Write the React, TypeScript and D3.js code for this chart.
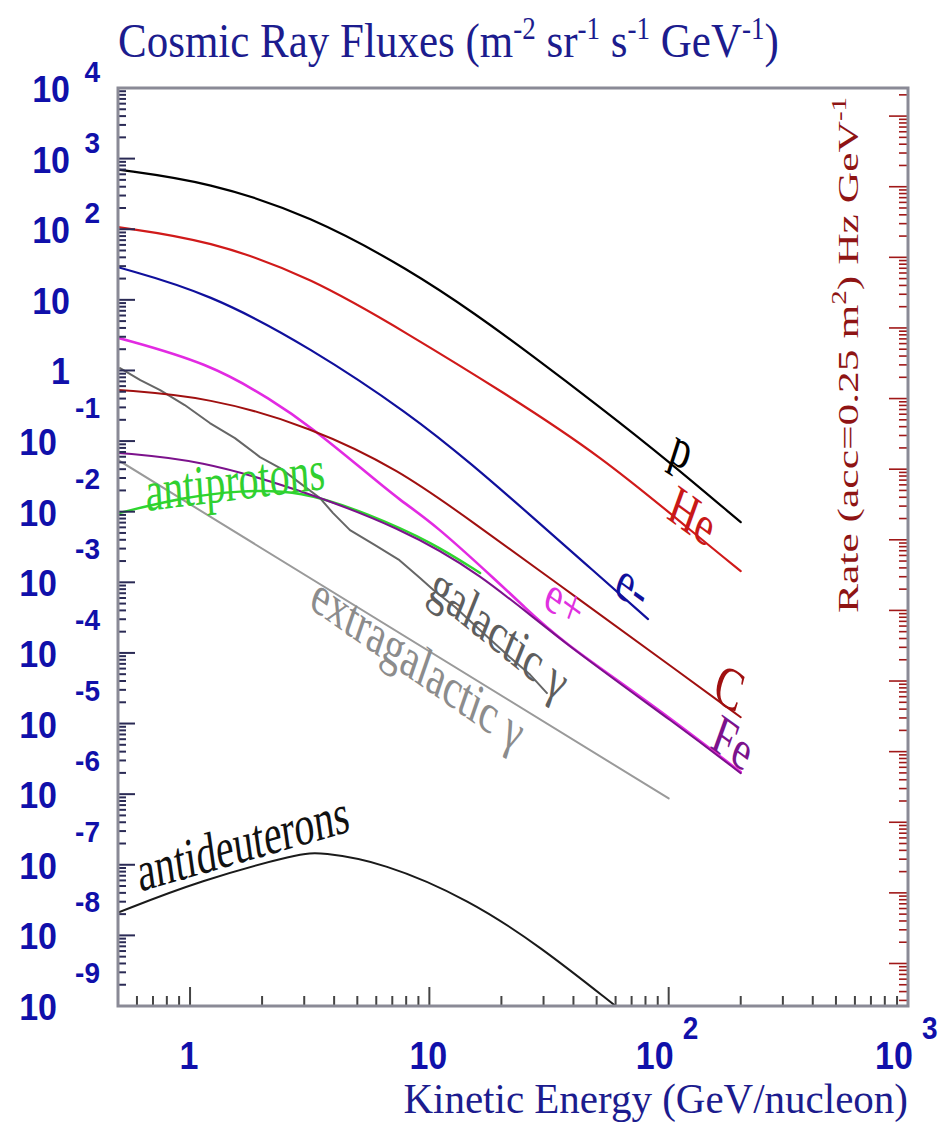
import React from "react";
import * as d3 from "d3";

// ---- frame -------------------------------------------------------------
const W = 948;
const H = 1127;
const M = { left: 118, right: 908, top: 88, bottom: 1006 };

// ---- axes --------------------------------------------------------------
const energyDomain: [number, number] = [0.5, 1000];
const fluxDomain: [number, number] = [1e-9, 1e4];
const acceptance = 0.25; // m^2 sr, converts flux to rate
const yDecades = [-9, -8, -7, -6, -5, -4, -3, -2, -1, 0, 1, 2, 3, 4];
const xDecades = [0, 1, 2, 3];

// ---- spectra: [kinetic energy GeV/n, flux m^-2 sr^-1 s^-1 GeV^-1] -------
const protons: [number, number][] = [
  [0.5, 700], [1.2, 467], [3.2, 154], [8.3, 26.4], [15.8, 6.1], [26.4, 1.71],
  [51.7, 0.303], [98.5, 0.054], [200, 0.0071],
];
const helium: [number, number][] = [
  [0.5, 107], [1.2, 70], [3.2, 21], [8.3, 3.17], [19.7, 0.527], [51.7, 0.0634],
  [135, 0.00423], [200, 0.00144],
];
const electrons: [number, number][] = [
  [0.5, 29], [1.2, 12.5], [3.2, 2.08], [8.3, 0.241], [15.2, 0.0457],
  [26.4, 0.00895], [45.6, 0.00175], [82, 0.000301],
];
const positrons: [number, number][] = [
  [0.5, 2.9], [1.2, 1.27], [2.2, 0.38], [3.2, 0.158], [5.3, 0.039],
  [7.5, 0.0146], [10.4, 0.0069], [19.7, 0.00095], [24.4, 0.00048],
  [35, 0.000152], [84, 0.0000195], [200, 0.00000205],
];
const carbon: [number, number][] = [
  [0.5, 0.53], [1.2, 0.42], [3.2, 0.158], [7.5, 0.039], [14.8, 0.0076],
  [42.6, 0.00056], [112, 0.000052], [200, 0.0000123],
];
const iron: [number, number][] = [
  [0.5, 0.068], [1.1, 0.054], [2.9, 0.0202], [7.5, 0.006], [16.3, 0.00135],
  [35, 0.000152], [112, 0.0000089], [200, 0.00000198],
];
const antiprotons: [number, number][] = [
  [0.5, 0.0095], [0.94, 0.016], [1.6, 0.02], [2.9, 0.02], [5.5, 0.0095],
  [10.4, 0.0036], [16.3, 0.00135],
];
const galacticGamma: [number, number][] = [
  [0.51, 1.08], [0.62, 0.731], [0.75, 0.527], [0.95, 0.324], [1.21, 0.18],
  [1.54, 0.11], [1.96, 0.0593], [2.38, 0.0415], [2.88, 0.0254],
  [3.49, 0.0156], [3.96, 0.00955], [4.66, 0.00548], [5.93, 0.00337],
  [7.5, 0.00206], [9.14, 0.00115], [10.4, 0.00078], [12.8, 0.000446],
  [16.3, 0.00021], [21.7, 0.000087], [26.4, 0.000049], [31, 0.000027],
];
const extragalacticGamma: [number, number][] = [
  [0.5, 0.054], [100, 0.00000087],
];
const antideuterons: [number, number][] = [
  [0.5, 2.1e-8], [1.1, 6e-8], [2.9, 1.46e-7], [3.5, 1.5e-7], [6.4, 1.09e-7],
  [14.8, 3.15e-8], [29, 7e-9], [60, 1e-9],
];

type Series = { name: string; data: [number, number][]; color: string; width: number; smooth: boolean };
const series: Series[] = [
  { name: "extragalactic", data: extragalacticGamma, color: "#9a9a9a", width: 2, smooth: true },
  { name: "galactic", data: galacticGamma, color: "#666666", width: 2, smooth: false },
  { name: "antideuterons", data: antideuterons, color: "#1a1a1a", width: 2, smooth: true },
  { name: "antiprotons", data: antiprotons, color: "#2ed62e", width: 2.4, smooth: true },
  { name: "e+", data: positrons, color: "#e22ae2", width: 2.6, smooth: true },
  { name: "Fe", data: iron, color: "#7c128c", width: 2, smooth: true },
  { name: "C", data: carbon, color: "#a01010", width: 2, smooth: true },
  { name: "e-", data: electrons, color: "#10109c", width: 2.2, smooth: true },
  { name: "He", data: helium, color: "#d01a1a", width: 2.2, smooth: true },
  { name: "p", data: protons, color: "#000000", width: 2.2, smooth: true },
];

// curve labels: text, anchor energy, anchor flux, on-screen angle, colour
const curveLabels: { text: string; e: number; f: number; angle: number; color: string; size: number }[] = [
  { text: "p", e: 114, f: 0.08, angle: 33, color: "#000000", size: 40 },
  { text: "He", e: 126, f: 0.009, angle: 36, color: "#c81818", size: 40 },
  { text: "e-", e: 71, f: 0.00091, angle: 36, color: "#10109c", size: 40 },
  { text: "e+", e: 36.9, f: 0.00054, angle: 36, color: "#e030e0", size: 38 },
  { text: "C", e: 180, f: 0.000033, angle: 30, color: "#a01010", size: 42 },
  { text: "Fe", e: 186, f: 0.0000055, angle: 36, color: "#7c128c", size: 40 },
  { text: "galactic \u03b3", e: 19.7, f: 0.000197, angle: 39, color: "#5e5e5e", size: 40 },
  { text: "extragalactic \u03b3", e: 9.0, f: 0.000074, angle: 35, color: "#8c8c8c", size: 40 },
  { text: "antiprotons", e: 1.54, f: 0.028, angle: -7, color: "#30d030", size: 40 },
  { text: "antideuterons", e: 1.66, f: 2.1e-7, angle: -16, color: "#111111", size: 40 },
];

const SERIF = "'Liberation Serif', 'Times New Roman', Times, serif";
const SANS = "'Liberation Sans', Arial, Helvetica, sans-serif";
const STRETCH = 1.42; // glyphs are drawn taller than wide
const AXIS_BLUE = "#1010aa";
const TITLE_BLUE = "#1c1c8e";
const RATE_RED = "#8e1414";

function logTicks(lo: number, hi: number) {
  const out: { v: number; major: boolean }[] = [];
  const n0 = Math.floor(Math.log10(lo));
  const n1 = Math.ceil(Math.log10(hi));
  for (let n = n0; n <= n1; n++) {
    for (let k = 1; k <= 9; k++) {
      const v = k * Math.pow(10, n);
      if (v >= lo * (1 - 1e-9) && v <= hi * (1 + 1e-9)) out.push({ v, major: k === 1 });
    }
  }
  return out;
}

function stretchedAngle(a: number, k: number) {
  const r = (a * Math.PI) / 180;
  return (Math.atan2(Math.sin(r), Math.cos(r) * k) * 180) / Math.PI;
}

export default function App() {
  const x = d3.scaleLog().domain(energyDomain).range([M.left, M.right]);
  const y = d3.scaleLog().domain(fluxDomain).range([M.bottom, M.top]);
  const yRate = d3
    .scaleLog()
    .domain([fluxDomain[0] * acceptance, fluxDomain[1] * acceptance])
    .range([M.bottom, M.top]);

  const lineSmooth = d3
    .line<[number, number]>()
    .x((d) => x(d[0]))
    .y((d) => y(d[1]))
    .curve(d3.curveBasis);
  const lineRough = d3
    .line<[number, number]>()
    .x((d) => x(d[0]))
    .y((d) => y(d[1]))
    .curve(d3.curveLinear);

  const yTicks = logTicks(fluxDomain[0], fluxDomain[1]);
  const xTicks = logTicks(energyDomain[0], energyDomain[1]);
  const rTicks = logTicks(fluxDomain[0] * acceptance, fluxDomain[1] * acceptance);

  const sup = (t: string, size: number, up: number) => (
    <tspan dy={-up} fontSize={size}>{t}</tspan>
  );

  return (
    <div style={{ position: "absolute", left: 0, top: 0, width: W, height: H, background: "#fff" }}>
      <svg width={W} height={H} viewBox={`0 0 ${W} ${H}`} style={{ display: "block" }}>
        <defs>
          <clipPath id="plot-clip">
            <rect x={M.left} y={M.top} width={M.right - M.left} height={M.bottom - M.top} />
          </clipPath>
        </defs>
        <rect x={0} y={0} width={W} height={H} fill="#ffffff" />

        {/* title */}
        <g transform={`translate(${M.left},57) scale(1,1.15)`}>
          <text fontFamily={SERIF} fontSize={43} fill={TITLE_BLUE}>
            Cosmic Ray Fluxes (m
            {sup("-2", 27, 16)}
            <tspan dy={16}> sr</tspan>
            {sup("-1", 27, 16)}
            <tspan dy={16}> s</tspan>
            {sup("-1", 27, 16)}
            <tspan dy={16}> GeV</tspan>
            {sup("-1", 27, 16)}
            <tspan dy={16}>)</tspan>
          </text>
        </g>

        {/* curves */}
        <g clipPath="url(#plot-clip)" fill="none" strokeLinejoin="round" strokeLinecap="round">
          {series.map((s) => (
            <path
              key={s.name}
              d={(s.smooth ? lineSmooth : lineRough)(s.data) || ""}
              stroke={s.color}
              strokeWidth={s.width}
            />
          ))}
        </g>

        {/* curve labels */}
        {curveLabels.map((l) => (
          <g
            key={l.text}
            transform={`translate(${x(l.e)},${y(l.f)}) scale(1,${STRETCH}) rotate(${stretchedAngle(l.angle, STRETCH)})`}
          >
            <text textAnchor="middle" dy="0.35em" fontFamily={SERIF} fontSize={l.size} fill={l.color}>
              {l.text}
            </text>
          </g>
        ))}

        {/* left axis ticks */}
        <g stroke="#2a2a55" strokeWidth={2}>
          {yTicks.map((t, i) => (
            <line key={i} x1={M.left} x2={M.left + (t.major ? 17 : 8)} y1={y(t.v)} y2={y(t.v)} />
          ))}
        </g>
        {/* bottom axis ticks */}
        <g stroke="#444" strokeWidth={2}>
          {xTicks.map((t, i) => (
            <line key={i} x1={x(t.v)} x2={x(t.v)} y1={M.bottom} y2={M.bottom - (t.major ? 19 : 10)} />
          ))}
        </g>
        {/* right (rate) axis ticks */}
        <g stroke="#a01818" strokeWidth={1.6}>
          {rTicks.map((t, i) => (
            <line key={i} x1={M.right} x2={M.right - (t.major ? 19 : 9)} y1={yRate(t.v)} y2={yRate(t.v)} />
          ))}
        </g>

        {/* frame */}
        <rect
          x={M.left}
          y={M.top}
          width={M.right - M.left}
          height={M.bottom - M.top}
          fill="none"
          stroke="#8a8a96"
          strokeWidth={3}
        />

        {/* left tick labels */}
        <g fontFamily={SANS} fontWeight="bold" fill={AXIS_BLUE}>
          {yDecades.map((n) => {
            const ty = y(Math.pow(10, n));
            if (n === 0 || n === 1) {
              return (
                <g key={n} transform={`translate(70,${ty + 14}) scale(1,1.1)`}>
                  <text textAnchor="end" fontSize={34}>{n === 0 ? "1" : "10"}</text>
                </g>
              );
            }
            const mainRight = n > 0 ? 70 : 57;
            const expBase = n > 0 ? ty - 6 : ty - 23;
            return (
              <g key={n}>
                <g transform={`translate(${mainRight},${ty + 14}) scale(1,1.1)`}>
                  <text textAnchor="end" fontSize={34}>10</text>
                </g>
                <g transform={`translate(100,${expBase}) scale(1,1.08)`}>
                  <text textAnchor="end" fontSize={28}>{String(n)}</text>
                </g>
              </g>
            );
          })}
        </g>

        {/* bottom tick labels */}
        <g fontFamily={SANS} fontWeight="bold" fill={AXIS_BLUE}>
          {xDecades.map((n) => {
            const tx = x(Math.pow(10, n));
            if (n === 0 || n === 1) {
              return (
                <g key={n} transform={`translate(${tx - 1},1069) scale(1,1.12)`}>
                  <text textAnchor="middle" fontSize={34}>{n === 0 ? "1" : "10"}</text>
                </g>
              );
            }
            return (
              <g key={n}>
                <g transform={`translate(${tx - 14},1069) scale(1,1.12)`}>
                  <text textAnchor="middle" fontSize={34}>10</text>
                </g>
                <g transform={`translate(${tx + 14},1039) scale(1,1.12)`}>
                  <text textAnchor="start" fontSize={28}>{String(n)}</text>
                </g>
              </g>
            );
          })}
        </g>

        {/* x axis title */}
        <g transform={`translate(${M.right},1113) scale(1,1.04)`}>
          <text textAnchor="end" fontFamily={SERIF} fontSize={41} fill={TITLE_BLUE}>
            Kinetic Energy (GeV/nucleon)
          </text>
        </g>

        {/* rate axis title */}
        <g transform={`translate(858,355) scale(1,1.45) rotate(-90)`}>
          <text textAnchor="middle" fontFamily={SERIF} fontSize={30} fill={RATE_RED}>
            Rate (acc=0.25 m
            {sup("2", 20, 12)}
            <tspan dy={12}>) Hz GeV</tspan>
            {sup("-1", 20, 12)}
          </text>
        </g>
      </svg>
    </div>
  );
}
